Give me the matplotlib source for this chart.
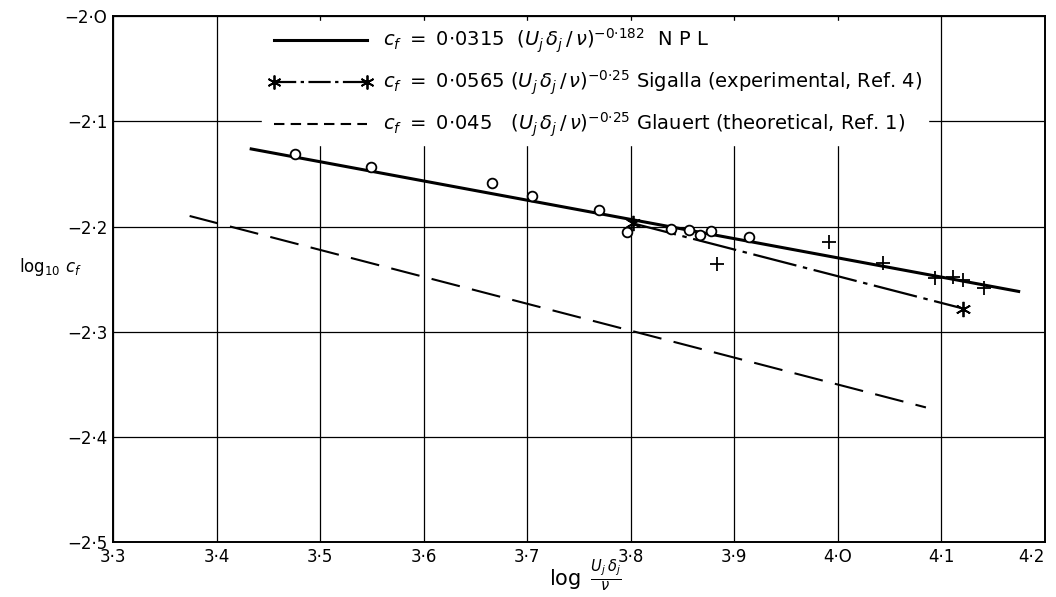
import matplotlib
matplotlib.use("Agg")
import matplotlib.pyplot as plt
from matplotlib.lines import Line2D

plt.rcParams['font.family'] = ['DejaVu Sans']
plt.rcParams['mathtext.fontset'] = 'dejavusans'

# ---- data ----
circle_x = [3.476, 3.549, 3.666, 3.705, 3.769, 3.796, 3.839, 3.856, 3.867, 3.877, 3.914]
circle_y = [-2.131, -2.143, -2.159, -2.171, -2.184, -2.205, -2.202, -2.203, -2.208, -2.204, -2.210]

plus_x = [3.883, 3.991, 4.044, 4.094, 4.111, 4.121, 4.141]
plus_y = [-2.236, -2.215, -2.235, -2.249, -2.248, -2.251, -2.258]

npl_x = [3.432, 4.176]
npl_y = [-2.126, -2.262]

sigalla_x = [3.802, 4.121]
sigalla_y = [-2.197, -2.278]

glauert_x = [3.374, 4.085]
glauert_y = [-2.190, -2.372]

x_ticks = [3.3, 3.4, 3.5, 3.6, 3.7, 3.8, 3.9, 4.0, 4.1, 4.2]
x_ticklabels = ['3·3', '3·4', '3·5', '3·6', '3·7', '3·8', '3·9', '4·O', '4·1', '4·2']
y_ticks = [-2.0, -2.1, -2.2, -2.3, -2.4, -2.5]
y_ticklabels = ['−2·O', '−2·1', '−2·2', '−2·3', '−2·4', '−2·5']

legend_labels = [
    r'$c_f\ =\ 0{\cdot}0315\ \ (U_j\,\delta_j\,/\,\nu)^{-0{\cdot}182}$  N P L',
    r'$c_f\ =\ 0{\cdot}0565\ (U_j\,\delta_j\,/\,\nu)^{-0{\cdot}25}$ Sigalla (experimental, Ref. 4)',
    r'$c_f\ =\ 0{\cdot}045\ \ \ (U_j\,\delta_j\,/\,\nu)^{-0{\cdot}25}$ Glauert (theoretical, Ref. 1)',
]

fig = plt.figure(figsize=(10.56, 5.97), dpi=100)
ax = fig.add_axes([0.107, 0.092, 0.8826, 0.881])

ax.set_xlim(3.3, 4.2)
ax.set_ylim(-2.5, -2.0)
ax.set_xticks(x_ticks)
ax.set_xticklabels(x_ticklabels, fontsize=12)
ax.set_yticks(y_ticks)
ax.set_yticklabels(y_ticklabels, fontsize=12)
ax.get_xticklabels()[-1].set_horizontalalignment('right')
ax.tick_params(length=0, pad=4)
ax.grid(True, color='black', linewidth=0.9)
ax.set_axisbelow(True)
for s in ax.spines.values():
    s.set_linewidth(1.4)

# fitted lines
npl_line, = ax.plot(npl_x, npl_y, color='black', lw=2.2, solid_capstyle='butt', zorder=3)
sig_line, = ax.plot(sigalla_x, sigalla_y, color='black', lw=1.6,
                    dashes=(20, 3, 2, 3), zorder=3)
ax.plot(sigalla_x, sigalla_y, linestyle='none', marker=(6, 2, 0), ms=11,
        mec='black', mew=1.3, zorder=5)
gl_line, = ax.plot(glauert_x, glauert_y, color='black', lw=1.5,
                   dashes=(14, 6), zorder=3)

# data points
ax.plot(circle_x, circle_y, linestyle='none', marker='o', ms=7, mfc='white',
        mec='black', mew=1.3, zorder=4)
ax.plot(plus_x, plus_y, linestyle='none', marker='+', ms=10, mec='black',
        mew=1.3, zorder=4)

# legend
h1 = Line2D([], [], color='black', lw=2.2)
h2 = Line2D([], [], color='black', lw=1.6, dashes=(10, 2, 1.5, 2),
            marker=(6, 2, 0), ms=10, mew=1.3, mec='black')
h3 = Line2D([], [], color='black', lw=1.5, dashes=(5, 3))
leg = ax.legend([h1, h2, h3], legend_labels, loc='upper left',
                bbox_to_anchor=(0.155, 1.0), frameon=True, fontsize=14,
                handlelength=5.4, handletextpad=0.5, labelspacing=0.7,
                numpoints=2, borderpad=0.3, borderaxespad=0.25)
leg.get_frame().set_facecolor('white')
leg.get_frame().set_edgecolor('white')
leg.get_frame().set_alpha(1.0)
leg.set_zorder(6)

# axis labels
fig.text(0.018, 0.552, r'$\log_{10}\,c_f$', fontsize=12, va='center', ha='left')
ax.text(3.756, -2.515, r'$\log\ \frac{U_j\,\delta_j}{\nu}$', fontsize=15,
        ha='center', va='top')

fig.savefig('out.png', dpi=100)
